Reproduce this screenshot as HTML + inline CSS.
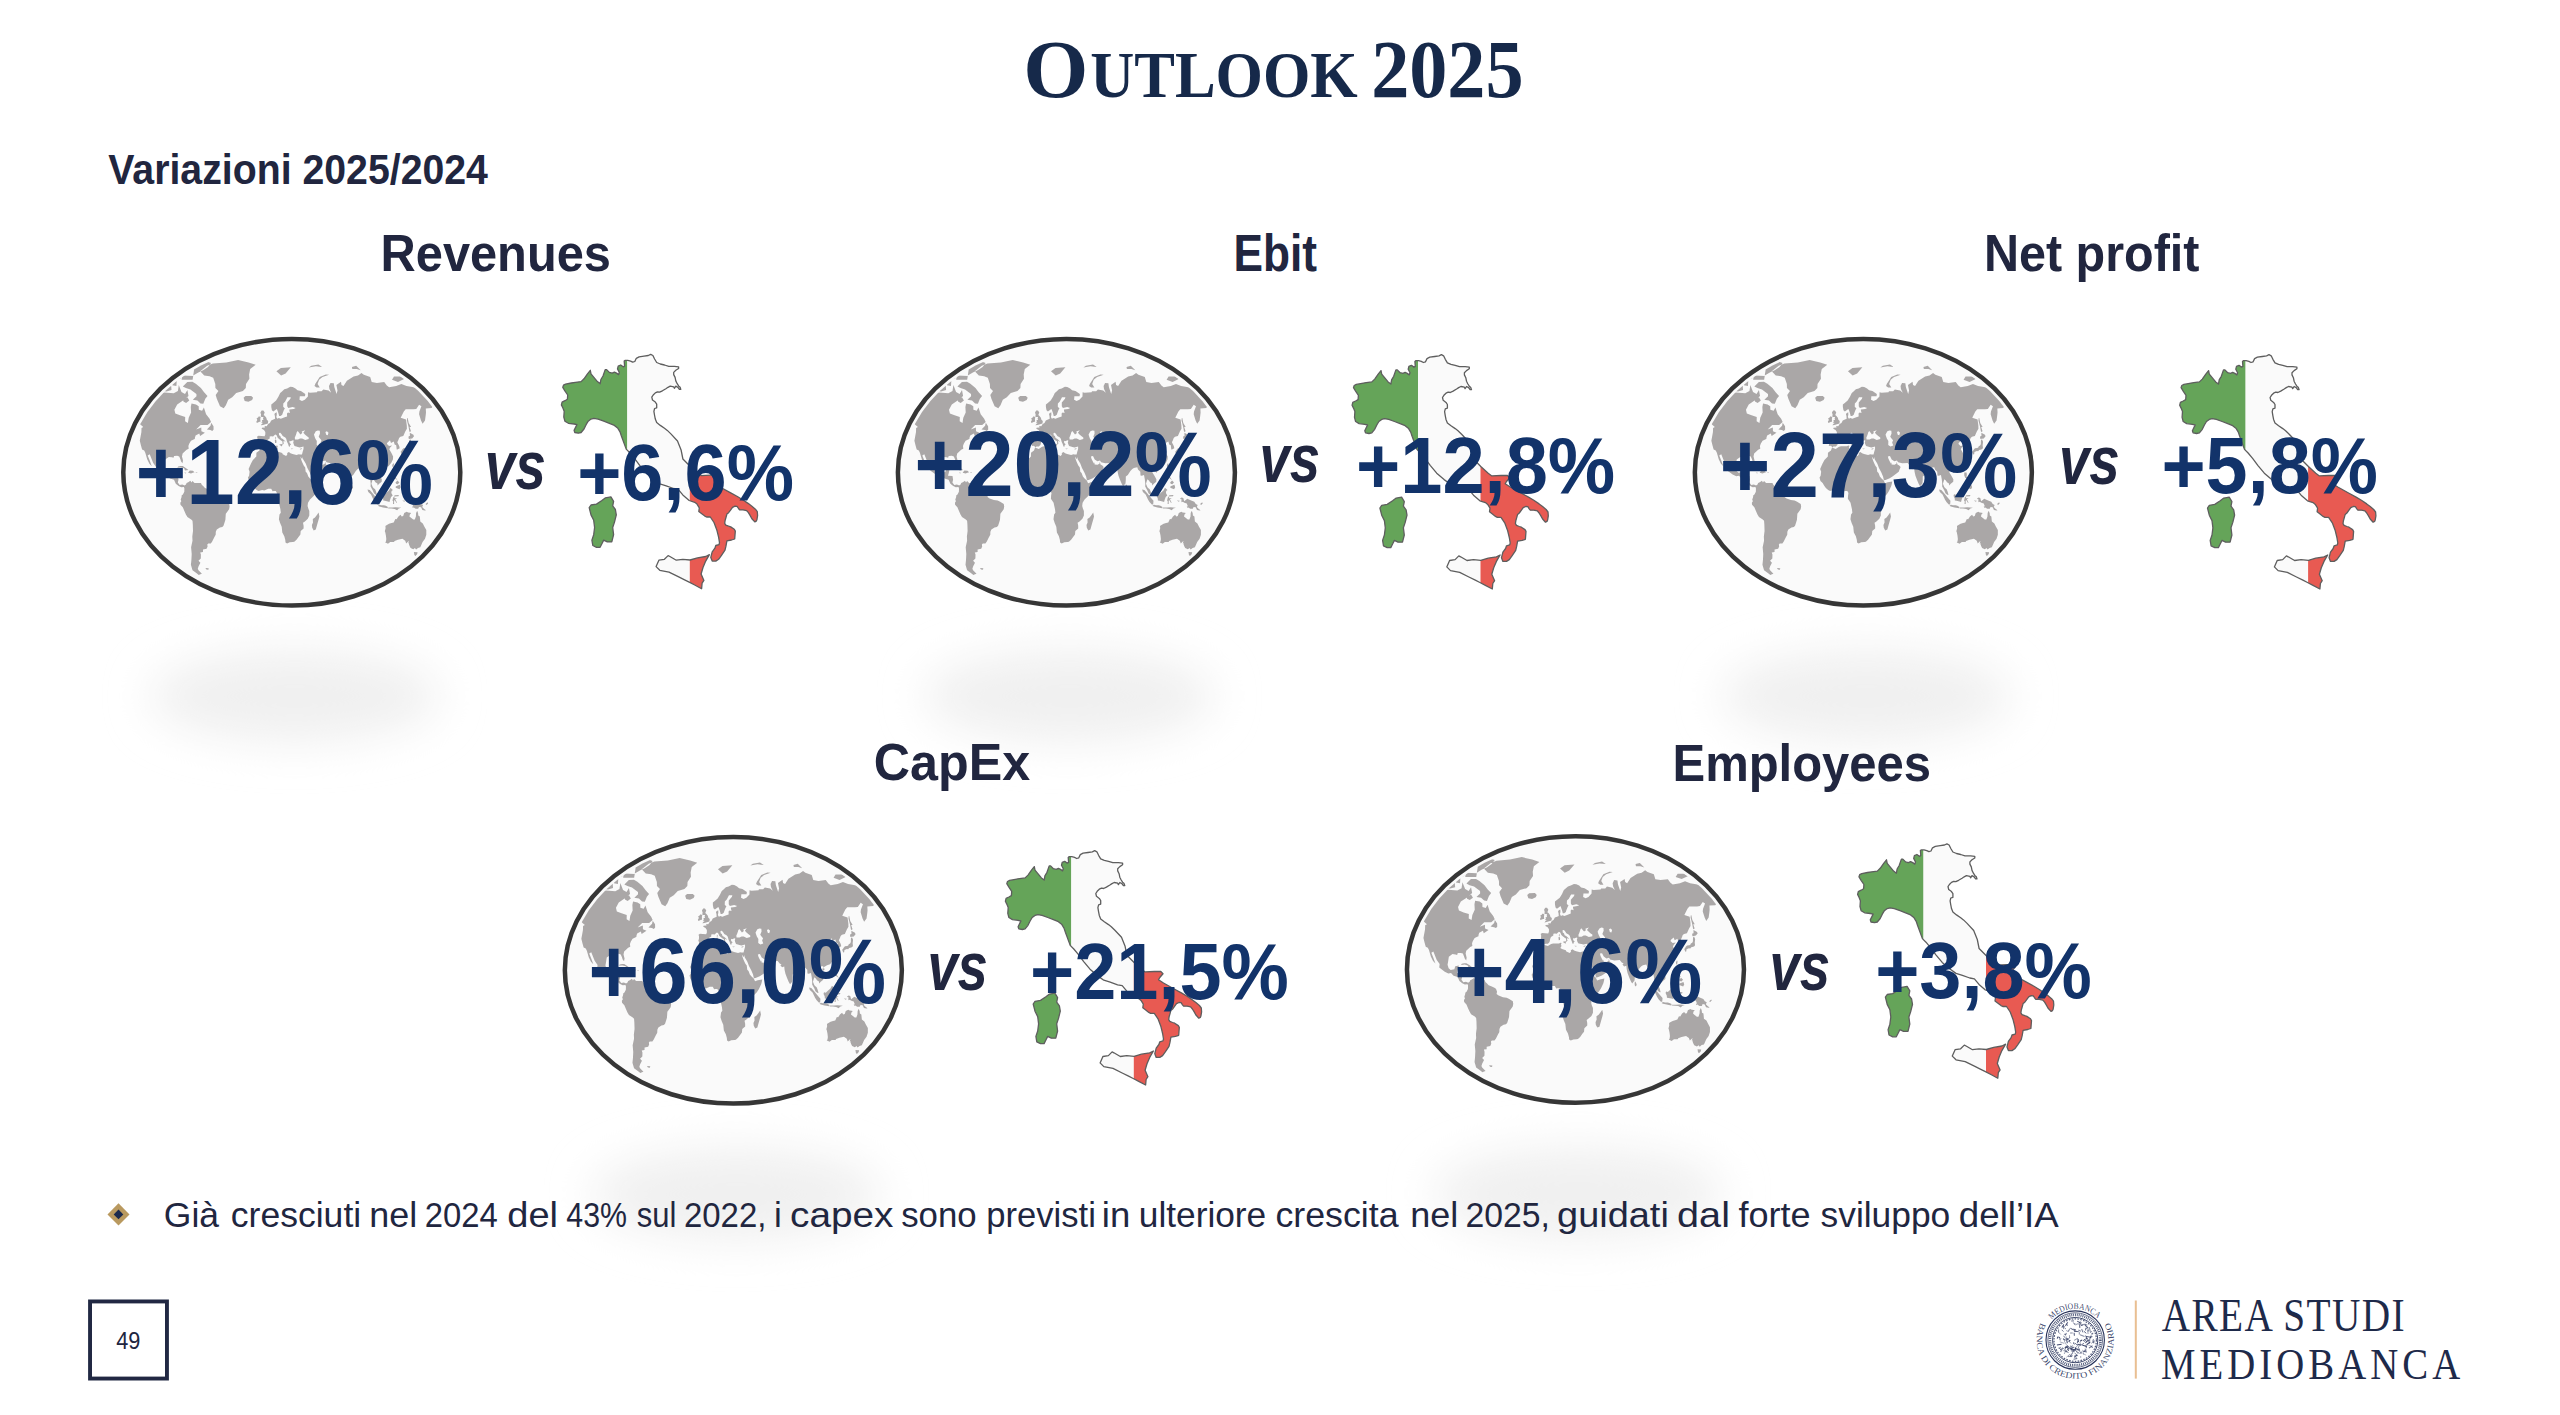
<!DOCTYPE html>
<html lang="it"><head><meta charset="utf-8"><title>Outlook 2025</title>
<style>html,body{margin:0;padding:0;background:#fff;width:2560px;height:1415px;overflow:hidden}</style>
</head><body>
<svg width="2560" height="1415" viewBox="0 0 2560 1415" style="position:absolute;left:0;top:0">
<defs>
<filter id="blur" x="-50%" y="-100%" width="200%" height="300%"><feGaussianBlur stdDeviation="22"/></filter>
<clipPath id="gclip"><ellipse cx="0" cy="0" rx="163.5" ry="128.3"/></clipPath>
<clipPath id="iclip"><path d="M574.8 432.5L574.1 430.4L576.2 426.1L576.9 424.7L574.1 424.0L568.4 423.3L564.9 421.2L563.8 417.0L564.2 411.3L562.8 407.8L561.4 404.9L562.1 402.1L564.9 400.7L567.4 399.3L567.7 395.0L564.9 390.8L562.8 387.3L563.5 385.2L565.6 384.1L571.3 383.0L575.5 382.3L581.1 381.6L584.0 378.8L587.5 373.8L590.3 370.3L591.0 373.8L593.9 377.4L597.4 381.6L600.2 383.7L600.9 379.5L603.0 376.0L605.2 369.6L606.6 369.6L609.4 372.4L612.2 373.1L614.4 372.1L616.5 373.1L618.6 374.6L619.3 372.4L617.5 368.9L618.2 366.1L620.7 365.0L623.2 366.8L624.6 366.1L624.2 361.1L625.0 360.4L627.8 360.4L630.6 361.1L632.7 362.2L634.8 361.5L636.3 358.3L639.1 356.9L644.0 356.2L648.3 355.5L650.7 354.4L652.9 355.5L654.6 359.0L656.7 362.5L660.3 364.0L664.5 365.0L668.8 366.4L674.4 366.4L678.6 366.8L678.6 368.5L675.8 370.3L673.7 372.4L673.7 374.6L675.1 377.4L675.8 380.9L677.2 383.7L678.6 385.9L680.1 387.3L680.8 389.4L679.4 389.4L677.9 387.3L675.8 386.2L674.4 388.3L673.7 386.9L670.2 386.2L668.0 387.3L665.9 388.7L662.4 390.8L659.6 392.2L657.5 391.9L655.3 392.9L653.2 395.0L651.8 397.2L652.5 400.0L655.3 402.1L656.7 404.2L656.7 407.8L654.6 408.5L653.9 411.3L654.6 415.5L655.3 419.1L656.7 422.6L660.3 425.4L664.5 428.3L667.3 430.4L670.9 433.9L677.5 441.0L681.1 450.0L682.9 459.0L690.1 466.2L697.5 472.9L701.1 475.6L710.3 475.2L716.8 475.2L719.0 477.5L715.8 481.2L714.5 483.5L719.5 486.7L730.7 492.9L737.8 496.8L743.1 500.0L748.4 503.6L751.9 506.3L755.4 509.2L757.3 511.7L757.6 515.5L756.9 519.8L756.3 521.1L754.8 521.9L751.9 518.7L750.2 515.6L748.4 512.7L746.6 510.6L743.1 509.9L739.6 509.9L738.5 508.5L737.1 506.4L735.0 506.2L732.5 507.4L730.7 509.9L728.6 512.7L726.9 514.1L726.1 517.0L725.1 520.5L724.7 523.3L725.8 525.1L728.6 526.2L730.7 526.9L734.3 529.3L735.3 531.1L734.7 539.0L731.5 540.0L726.9 540.9L725.9 546.4L725.0 550.1L721.3 555.6L718.6 559.3L715.8 561.1L712.2 561.1L710.8 557.4L712.2 551.9L714.9 548.2L715.8 545.5L719.0 544.6L719.5 542.7L718.6 537.2L716.8 529.9L714.0 522.5L710.3 517.0L706.6 517.0L704.8 516.1L701.1 513.3L698.8 511.5L699.3 507.8L697.0 504.1L694.7 502.3L689.2 500.5L682.8 494.9L678.2 489.4L673.6 488.5L666.2 485.8L659.8 483.9L653.4 479.3L646.0 472.9L639.7 465.3L634.3 458.1L629.8 452.7L626.2 449.1L621.4 436.0L620.0 431.8L617.9 428.3L614.4 425.4L609.4 423.3L603.8 421.2L598.1 419.1L593.9 418.4L591.0 419.1L588.2 421.2L586.1 424.7L584.0 429.0L581.1 432.5L578.3 433.2ZM605.5 497.8L610.9 496.9L613.6 501.4L612.7 505.9L615.4 509.5L616.3 514.9L614.5 522.1L612.7 527.5L613.6 534.7L611.8 541.9L607.3 541.9L603.7 540.1L601.9 543.7L600.1 547.3L596.5 547.3L592.8 545.5L591.9 540.1L593.7 534.7L594.6 527.5L593.7 520.3L591.0 514.9L589.2 507.7L591.0 505.0L596.5 504.1L601.9 500.5ZM709.4 554.7L705.7 556.5L697.5 557.9L690.1 560.0L682.8 559.3L676.3 560.2L669.9 556.5L668.1 555.6L664.4 559.3L658.9 560.2L656.1 566.6L659.8 570.3L669.0 572.1L678.2 576.7L684.6 579.9L689.2 582.2L694.7 585.0L701.6 588.7L702.1 583.2L703.9 580.4L701.1 574.0L703.0 567.5L705.7 561.1Z"/></clipPath>
<symbol id="map" overflow="visible">
<g clip-path="url(#gclip)"><path d="M-185.6 -74.7L-181.8 -81.1L-171.8 -85.9L-166.0 -84.1L-157.9 -82.5L-152.3 -82.3L-145.4 -83.7L-138.4 -81.3L-134.1 -79.4L-127.4 -79.8L-118.1 -79.0L-113.9 -81.3L-113.0 -87.2L-110.3 -80.4L-106.8 -78.4L-104.4 -82.3L-103.3 -76.4L-108.8 -71.7L-114.6 -67.9L-117.4 -62.5L-116.5 -58.9L-111.8 -57.1L-106.6 -55.4L-106.7 -51.1L-103.9 -49.4L-103.1 -54.5L-100.7 -59.8L-101.0 -65.2L-100.3 -68.7L-95.8 -67.9L-93.1 -66.1L-93.0 -62.5L-89.7 -61.6L-87.9 -64.8L-85.7 -58.0L-82.2 -53.6L-80.7 -50.2L-84.2 -47.2L-91.2 -47.2L-95.7 -42.7L-90.5 -44.7L-90.4 -41.1L-86.9 -39.5L-85.8 -40.3L-91.7 -36.3L-92.5 -38.7L-96.2 -36.8L-97.1 -33.9L-96.6 -33.5L-100.8 -31.6L-102.6 -28.5L-103.4 -26.3L-103.1 -23.6L-105.2 -22.5L-109.2 -18.8L-109.8 -15.9L-108.8 -11.7L-109.3 -9.1L-110.7 -10.9L-111.4 -13.1L-112.6 -15.9L-114.6 -16.5L-117.7 -16.4L-118.3 -14.5L-119.9 -15.1L-123.0 -15.4L-126.6 -12.8L-127.2 -8.8L-127.9 -4.7L-126.8 -1.2L-124.8 0.5L-121.1 -0.3L-120.2 -3.3L-116.6 -4.0L-117.5 0.1L-118.4 3.5L-113.9 3.8L-113.3 7.5L-114.0 10.2L-112.1 12.8L-109.5 12.2L-107.2 13.2L-108.0 14.8L-110.6 14.9L-113.2 13.7L-116.0 11.5L-117.8 7.5L-121.9 6.2L-124.4 3.5L-127.1 3.9L-130.7 2.2L-136.2 -1.9L-135.8 -5.4L-138.7 -9.5L-142.1 -18.1L-144.1 -16.7L-142.1 -11.7L-140.0 -6.1L-142.4 -8.6L-144.6 -13.1L-146.5 -19.6L-147.6 -21.8L-149.7 -22.7L-150.9 -27.0L-152.0 -31.6L-150.4 -40.3L-150.3 -44.2L-148.5 -45.2L-152.3 -48.5L-154.1 -54.5L-156.0 -59.8L-158.5 -61.6L-161.4 -63.7L-166.9 -65.2L-171.2 -63.4L-172.7 -65.2L-175.6 -61.6L-179.2 -58.9L-185.0 -55.4L-187.7 -54.5L-182.4 -58.0L-178.9 -62.1L-182.8 -63.9L-185.2 -65.7L-184.2 -69.2L-179.5 -72.6L-183.2 -72.8ZM-91.6 -101.0L-84.6 -106.5L-79.0 -108.8L-65.5 -109.9L-53.7 -112.4L-43.2 -109.9L-36.1 -107.6L-41.6 -103.2L-42.7 -97.8L-42.4 -93.6L-45.8 -88.4L-46.0 -84.3L-48.9 -81.3L-55.6 -79.4L-59.6 -75.1L-63.6 -72.6L-65.9 -67.0L-68.1 -64.1L-71.8 -66.1L-73.4 -69.8L-75.0 -73.6L-76.1 -77.4L-73.4 -81.3L-76.4 -84.3L-76.5 -88.4L-78.6 -94.6L-82.2 -96.1L-87.6 -96.7ZM-31.1 -24.8L-31.8 -26.0L-33.0 -26.6L-34.5 -26.3L-34.3 -28.8L-35.1 -29.0L-34.4 -31.6L-34.3 -33.9L-34.8 -35.5L-33.4 -36.6L-30.4 -36.3L-27.2 -36.1L-26.5 -37.9L-26.5 -40.3L-27.8 -42.2L-30.1 -43.5L-29.8 -44.5L-26.8 -44.7L-27.2 -46.4L-25.1 -46.0L-23.7 -48.4L-21.9 -49.4L-20.6 -51.9L-18.4 -52.8L-16.7 -53.6L-16.9 -56.2L-17.4 -58.0L-16.9 -59.1L-15.1 -60.1L-15.0 -57.5L-15.5 -55.4L-14.5 -53.6L-13.0 -54.3L-11.0 -53.5L-7.1 -55.0L-4.7 -55.9L-4.8 -58.9L-3.8 -59.9L-1.8 -59.2L-2.4 -61.6L-2.5 -62.8L1.9 -63.4L3.8 -64.3L0.8 -65.2L-3.5 -64.3L-4.6 -66.1L-4.6 -69.8L-1.4 -73.6L-1.0 -75.1L-4.4 -75.1L-6.6 -70.7L-8.5 -68.9L-8.6 -65.5L-6.9 -63.9L-7.8 -62.5L-9.2 -58.9L-9.6 -57.5L-11.3 -56.2L-12.7 -56.2L-13.1 -58.0L-13.8 -60.3L-14.6 -62.5L-15.1 -63.4L-16.1 -62.5L-18.5 -60.7L-19.9 -62.1L-20.5 -65.2L-20.5 -67.9L-18.6 -69.4L-15.7 -71.7L-13.4 -75.5L-11.6 -79.4L-9.8 -80.9L-7.5 -83.1L-4.7 -83.9L-1.5 -85.5L0.9 -85.3L3.7 -83.9L5.7 -82.1L9.1 -81.3L13.5 -78.4L13.2 -76.1L8.0 -76.1L7.7 -72.6L10.2 -71.3L13.0 -72.6L16.1 -75.9L16.2 -80.0L18.2 -79.6L25.2 -80.0L25.6 -81.1L29.8 -81.1L31.5 -82.9L36.8 -81.7L39.4 -79.6L37.6 -83.3L37.2 -86.3L38.7 -89.4L42.0 -89.0L42.5 -85.3L44.8 -78.4L45.7 -81.9L44.6 -87.4L49.2 -90.6L49.7 -87.4L51.7 -86.3L55.1 -91.5L61.8 -95.7L66.2 -96.7L69.7 -99.3L72.0 -97.6L78.4 -95.2L79.9 -90.2L85.1 -89.4L92.4 -90.2L95.0 -86.7L97.3 -85.1L104.4 -86.3L109.6 -88.2L114.7 -86.3L120.6 -85.3L124.6 -84.3L126.6 -82.1L131.7 -82.5L134.3 -83.3L140.1 -82.7L144.4 -81.1L150.9 -78.4L155.6 -75.5L152.7 -72.6L146.7 -73.6L145.2 -68.9L141.9 -67.0L139.8 -64.3L134.0 -63.9L134.2 -59.8L133.9 -57.1L133.2 -51.9L130.8 -48.5L129.2 -51.9L127.3 -58.0L127.6 -60.7L129.6 -66.1L127.3 -67.6L124.5 -63.4L121.6 -63.0L113.9 -63.0L112.0 -60.7L108.9 -54.5L114.2 -52.8L115.0 -46.9L115.1 -43.5L113.6 -41.1L111.5 -36.3L108.6 -35.5L107.3 -34.4L106.6 -32.4L105.5 -30.1L107.4 -26.3L107.9 -24.0L105.6 -22.7L104.9 -22.7L104.4 -27.0L102.8 -27.8L102.0 -30.8L99.2 -29.3L98.2 -32.1L95.3 -29.4L95.2 -28.2L97.2 -26.4L100.3 -26.9L98.4 -24.8L97.5 -23.0L99.9 -18.8L101.3 -15.9L101.2 -13.1L99.5 -9.5L96.7 -6.1L93.7 -5.1L90.7 -3.3L90.2 -2.3L89.8 -4.1L88.0 -4.0L86.6 -1.9L86.0 0.1L87.6 2.6L90.0 6.9L89.9 9.5L87.4 11.5L85.8 13.3L85.6 11.1L83.6 9.9L82.7 8.5L81.1 7.0L80.4 8.6L79.6 11.5L80.9 14.8L81.7 15.7L83.3 17.0L84.3 19.4L85.2 22.7L83.9 22.5L82.1 20.9L81.0 18.1L78.8 14.3L78.9 11.5L78.4 6.9L77.6 2.8L75.4 3.5L74.1 3.1L73.9 -0.6L71.6 -2.9L70.9 -5.1L69.6 -4.7L67.5 -4.3L65.9 -3.3L64.0 -1.2L61.4 2.7L59.4 4.2L59.4 7.5L59.1 11.1L56.7 14.0L55.4 11.8L53.7 7.8L52.1 3.5L51.2 -0.6L50.9 -3.7L48.7 -3.0L47.0 -5.1L48.2 -5.9L46.3 -6.9L44.3 -9.4L38.9 -9.1L34.7 -10.0L33.6 -11.8L31.0 -11.1L28.3 -12.9L26.6 -16.2L24.5 -15.9L25.1 -13.6L26.3 -11.1L27.7 -8.6L28.5 -10.0L28.2 -7.7L31.2 -7.6L33.2 -8.7L33.4 -10.7L34.1 -7.9L35.9 -6.9L37.3 -5.2L36.1 -2.5L35.4 -0.6L33.1 1.1L29.5 3.9L26.4 5.9L22.2 7.8L20.5 7.9L19.7 4.2L18.0 0.1L15.6 -4.3L13.9 -8.8L11.3 -13.1L10.9 -15.2L10.4 -13.1L8.5 -15.8L8.1 -17.8L10.2 -17.8L10.8 -20.3L11.7 -23.3L11.7 -25.7L8.1 -24.9L6.0 -25.4L4.5 -25.8L2.7 -26.3L1.8 -28.2L1.4 -30.1L2.0 -31.6L1.2 -32.1L-1.4 -31.1L-2.4 -31.6L-2.2 -29.3L-0.7 -28.1L-1.7 -27.0L-2.2 -25.4L-3.0 -26.0L-3.7 -28.2L-4.7 -30.4L-5.6 -33.6L-6.5 -34.7L-9.1 -36.3L-10.2 -38.0L-11.5 -39.6L-12.9 -39.2L-12.7 -37.1L-11.5 -36.3L-10.8 -34.3L-9.0 -33.2L-6.5 -31.1L-6.6 -30.5L-8.0 -31.6L-8.5 -30.1L-7.8 -29.3L-8.8 -27.8L-9.3 -27.8L-9.3 -30.1L-9.5 -31.0L-10.8 -31.8L-12.7 -33.3L-14.1 -34.6L-14.7 -36.0L-15.4 -37.2L-16.5 -37.7L-17.7 -36.8L-18.7 -35.7L-20.5 -36.1L-22.1 -35.8L-22.1 -33.9L-24.5 -32.4L-25.3 -30.5L-25.6 -28.4L-26.1 -27.2L-27.5 -25.8L-29.9 -25.8ZM-31.4 -24.5L-30.9 -24.6L-27.6 -23.4L-24.3 -25.5L-22.3 -26.0L-16.5 -26.1L-14.9 -26.7L-13.9 -26.4L-14.5 -24.8L-13.9 -23.6L-14.9 -22.1L-14.8 -21.3L-13.4 -20.5L-9.6 -19.3L-9.1 -18.0L-5.7 -16.4L-4.5 -17.7L-4.6 -19.3L-2.9 -20.2L-1.3 -19.1L0.7 -18.3L4.7 -17.2L7.1 -18.1L8.1 -17.8L8.5 -15.8L9.2 -13.4L10.1 -10.9L11.9 -6.7L13.4 -4.7L13.9 -0.6L15.2 0.8L16.5 4.3L18.2 6.2L20.4 8.3L21.7 11.0L24.4 10.0L28.9 9.1L28.6 11.0L27.9 13.7L25.6 18.7L23.5 22.0L20.3 25.2L18.2 27.2L16.2 30.5L15.8 33.7L16.5 36.3L17.5 38.6L17.5 43.2L16.0 46.5L13.1 49.1L11.2 50.5L11.8 53.4L11.8 56.1L8.9 58.7L8.6 62.3L7.1 64.1L4.7 67.4L2.5 69.5L1.0 69.8L-2.1 70.0L-4.7 71.1L-6.3 70.1L-6.5 67.8L-7.5 63.9L-9.5 60.2L-10.1 54.5L-11.7 50.7L-12.9 47.0L-12.3 42.1L-11.0 40.4L-11.4 36.9L-12.4 32.4L-12.8 30.4L-15.5 26.5L-15.3 23.3L-14.9 20.7L-16.0 18.8L-17.9 18.8L-19.2 19.0L-20.6 16.4L-23.6 16.5L-27.5 18.3L-29.6 17.8L-33.3 18.8L-35.2 17.7L-37.5 15.7L-39.3 13.3L-40.7 10.8L-42.9 8.6L-43.8 5.2L-42.7 3.5L-42.2 -0.6L-43.2 -3.3L-40.8 -8.8L-38.9 -12.4L-35.5 -15.7L-35.4 -19.6L-32.4 -21.9ZM26.8 40.2L27.6 44.1L26.9 47.0L25.6 51.4L24.0 57.3L21.9 58.1L20.4 55.4L20.1 52.7L21.2 50.1L21.0 46.7L23.2 45.2L25.1 42.8ZM-107.3 13.2L-105.8 12.2L-105.2 10.8L-103.6 9.9L-101.4 8.5L-100.4 10.2L-99.3 8.6L-97.3 10.7L-93.0 10.7L-90.9 10.6L-89.9 12.8L-88.9 13.5L-86.8 15.7L-83.6 16.9L-80.5 18.5L-79.4 19.4L-78.4 22.2L-78.9 24.6L-76.8 26.1L-72.5 27.8L-68.8 28.3L-66.2 29.5L-62.6 31.7L-62.2 34.3L-62.7 36.9L-64.5 39.5L-66.0 41.5L-66.4 47.4L-67.4 50.7L-68.3 53.4L-69.5 54.8L-71.9 55.2L-75.0 57.2L-76.0 59.5L-76.1 62.4L-77.5 65.0L-79.6 69.3L-81.0 71.1L-83.6 71.1L-84.5 72.1L-84.2 74.3L-85.2 76.4L-88.8 77.2L-88.8 79.8L-91.6 80.1L-90.9 82.2L-91.0 86.2L-93.3 88.5L-91.4 90.5L-93.2 93.9L-94.0 96.5L-93.3 97.9L-89.9 101.5L-91.4 102.0L-93.0 102.8L-95.5 100.7L-99.3 97.9L-100.9 92.4L-100.4 87.7L-100.1 81.6L-100.7 75.0L-99.3 68.5L-99.5 64.3L-98.8 58.8L-99.0 52.1L-99.3 48.5L-100.6 47.1L-104.4 44.8L-105.9 42.1L-107.1 39.5L-109.0 35.0L-111.3 32.4L-111.5 30.4L-110.5 29.0L-111.1 27.2L-110.2 24.6L-110.2 23.3L-108.9 22.2L-107.5 19.4L-107.4 16.1L-107.9 14.8ZM-86.4 95.8L-83.1 96.0L-83.4 97.4L-85.4 97.3ZM94.3 53.1L97.2 51.5L99.7 50.7L101.9 50.1L103.5 46.7L104.8 47.0L106.6 44.1L108.7 42.5L109.9 44.1L111.4 43.8L112.4 40.8L114.9 39.5L116.3 40.2L118.4 40.4L119.4 40.6L118.1 42.1L117.6 44.1L118.9 45.3L121.4 47.3L123.0 47.3L124.1 44.1L124.3 40.8L125.4 38.5L126.3 41.0L126.5 43.3L128.0 44.1L128.5 49.3L131.0 51.1L132.5 54.1L134.5 57.7L134.5 62.4L133.2 66.4L130.8 69.8L128.5 75.0L126.2 75.6L124.3 77.2L123.1 75.7L121.5 76.9L118.8 75.7L118.0 74.3L117.2 72.3L117.0 70.4L116.3 71.5L117.1 68.5L114.4 71.1L113.4 68.4L110.6 66.4L106.1 67.4L102.8 68.7L102.2 69.8L98.5 69.8L96.2 71.4L94.2 70.5L93.4 70.4L94.2 69.0L94.5 66.6L94.1 63.2L93.5 60.2L93.0 59.0L93.8 56.0L93.6 53.7ZM122.1 79.7L125.8 80.0L125.3 81.9L123.6 84.0L122.5 82.4ZM-84.3 -76.4L-86.5 -73.6L-88.5 -68.5L-91.3 -68.9L-94.4 -71.7L-99.0 -72.6L-95.3 -76.1L-95.4 -78.4L-101.4 -82.9L-105.9 -84.3L-109.0 -85.9L-104.5 -90.4L-99.4 -90.6L-96.0 -88.6L-90.9 -84.3L-87.7 -80.0ZM-98.6 -96.7L-93.5 -99.9L-88.7 -102.1L-83.8 -105.4L-80.7 -109.4L-85.8 -111.0L-94.8 -110.6L-98.8 -107.6L-97.8 -102.1ZM-98.6 -96.3L-109.5 -96.7L-110.2 -92.5L-99.2 -92.5ZM-136.0 -86.3L-130.2 -89.4L-123.6 -90.0L-120.6 -86.3L-120.3 -82.3L-125.3 -80.9L-132.7 -81.7L-136.0 -83.9ZM-142.4 -87.0L-137.5 -85.9L-133.7 -90.4L-138.9 -92.1L-141.8 -89.4ZM-108.6 -72.6L-104.4 -75.1L-102.5 -71.7L-105.7 -69.4L-108.4 -70.7ZM-132.4 -96.7L-122.6 -95.7L-123.0 -93.6L-133.3 -92.5ZM-120.5 -96.7L-112.5 -95.7L-111.0 -93.6L-117.6 -92.5ZM-119.6 -89.0L-115.1 -91.3L-115.4 -86.3L-119.5 -87.0ZM-84.9 -42.9L-81.3 -46.5L-80.6 -49.5L-78.3 -46.0L-78.2 -42.7L-79.5 -41.4L-81.4 -42.2ZM-114.4 -4.5L-113.7 -5.8L-111.2 -6.2L-109.1 -6.2L-106.1 -4.4L-103.3 -2.2L-106.8 -1.8L-107.7 -4.0L-110.8 -4.9L-112.4 -4.7ZM-103.6 0.1L-102.0 -1.8L-98.9 -1.6L-97.3 -0.0L-99.0 0.5L-100.8 1.1L-103.6 0.4ZM-107.7 0.3L-105.5 0.5L-106.2 1.1ZM-96.0 0.1L-94.4 0.3L-94.6 0.8L-96.1 0.8ZM-48.2 -74.5L-46.3 -76.3L-40.5 -76.4L-38.7 -74.5L-39.7 -72.2L-43.4 -70.5L-47.1 -71.3ZM-15.4 -101.0L-10.9 -104.3L-1.0 -105.0L-6.2 -98.9L-10.7 -96.7ZM-31.0 -47.0L-28.8 -47.4L-23.9 -48.9L-23.6 -51.4L-25.0 -52.6L-25.5 -54.5L-26.9 -56.4L-28.1 -57.3L-27.1 -59.8L-28.4 -61.7L-30.2 -61.7L-31.4 -59.8L-30.7 -57.6L-31.2 -55.9L-30.2 -55.4L-28.3 -55.2L-28.8 -53.6L-28.3 -52.4L-29.9 -52.3L-29.5 -50.7L-30.6 -49.9L-28.5 -49.2L-29.6 -48.9ZM-31.5 -53.5L-31.3 -50.6L-32.3 -50.6L-34.9 -49.4L-35.5 -50.6L-34.5 -52.4L-35.2 -54.0L-33.7 -54.7L-33.2 -55.7L-32.1 -55.7L-31.0 -54.7ZM-12.6 -27.5L-9.8 -25.8L-9.4 -28.2L-11.7 -28.1ZM-16.7 -29.3L-15.5 -29.4L-15.3 -31.6L-16.0 -32.7L-17.0 -32.2ZM-16.6 -33.8L-16.0 -33.0L-15.7 -35.2L-15.9 -35.5L-16.5 -34.7ZM-1.1 -23.7L1.8 -23.6L-0.1 -23.1ZM7.9 -23.3L10.3 -24.2L9.6 -23.1L8.4 -22.7ZM22.7 -86.3L24.8 -84.7L28.0 -84.7L25.8 -88.4L27.3 -92.5L30.7 -95.2L37.3 -97.6L34.0 -97.8L27.9 -95.2L25.5 -91.5L23.5 -88.6ZM17.0 -104.7L24.1 -106.1L30.4 -105.4L26.6 -107.9L19.5 -106.5ZM60.5 -103.2L65.0 -103.2L68.9 -102.1L64.4 -106.5L60.1 -105.4ZM100.2 -92.5L106.2 -90.4L112.8 -93.6L108.6 -95.7L102.2 -95.7ZM141.6 -85.3L144.8 -85.7L142.7 -86.5ZM108.8 -20.6L109.9 -17.7L110.8 -18.0L111.1 -20.3L113.5 -21.3L114.8 -21.0L115.8 -22.2L117.8 -22.7L118.9 -23.3L119.6 -24.3L119.3 -27.0L119.5 -28.5L119.7 -30.5L118.6 -33.0L117.6 -32.1L117.5 -30.1L117.5 -28.2L116.8 -26.7L115.4 -26.0L114.9 -24.8L113.9 -24.2L111.6 -24.0L110.1 -22.4L109.8 -21.6ZM117.2 -33.2L118.4 -33.6L120.4 -33.9L122.2 -36.0L121.6 -37.6L118.0 -39.5L118.1 -36.3L116.9 -36.0L116.7 -34.4ZM117.8 -40.3L119.2 -41.1L117.8 -45.2L119.3 -45.2L116.9 -49.4L115.9 -54.2L115.4 -54.2L115.1 -51.9L116.8 -45.2L117.5 -41.3ZM100.5 -6.1L101.6 -4.5L102.1 -8.1L101.6 -9.3L100.5 -7.2ZM88.9 -0.8L90.4 0.4L91.3 -1.4L90.6 -2.1L89.2 -1.8ZM100.9 0.1L103.2 0.1L103.6 3.1L102.9 3.6L105.7 7.9L103.2 5.9L102.0 5.7L100.9 3.1ZM103.9 15.4L107.7 17.0L108.8 15.0L108.0 12.4L105.4 13.5L103.9 14.1ZM103.7 10.2L105.7 8.2L107.6 10.2L105.9 12.0L104.3 11.5ZM90.3 22.6L90.9 22.0L92.4 22.5L94.5 20.4L97.1 18.1L98.6 15.4L101.1 17.8L99.8 18.8L99.5 20.7L100.9 23.3L99.3 24.6L98.2 27.8L97.7 29.6L96.1 29.1L93.1 28.5L91.5 28.3L91.3 25.9L90.3 23.9ZM75.7 17.3L78.0 17.8L81.0 21.3L84.7 25.7L87.1 28.5L86.8 32.2L85.4 32.2L83.1 29.8L81.7 27.4L79.2 22.2L76.5 19.6ZM86.1 33.4L87.6 32.4L89.6 32.9L92.2 32.9L94.0 33.5L96.1 34.6L95.8 35.9L91.2 35.1L87.5 34.2ZM96.5 35.2L100.7 35.2L103.9 35.0L107.0 35.2L109.5 35.5L107.0 36.3L105.3 37.9L102.8 36.6L99.6 36.3L96.4 36.1ZM101.2 31.7L102.3 31.8L102.3 28.3L103.1 27.9L104.5 30.5L105.3 30.4L103.5 27.0L105.4 25.7L103.0 25.9L102.1 23.9L103.0 22.9L107.0 22.6L106.7 24.0L102.3 24.2L101.4 25.2L100.7 28.1L101.4 29.1ZM113.6 26.3L115.2 25.1L116.9 25.7L117.8 28.9L120.9 26.5L124.2 27.9L127.9 29.5L129.4 31.7L131.3 32.7L130.4 34.7L132.1 36.4L134.2 37.9L133.0 38.3L130.6 37.7L129.3 35.0L127.2 34.6L126.4 36.4L123.9 36.4L121.9 35.1L120.8 35.5L120.4 34.3L121.6 34.0L121.1 33.1L120.4 31.2L118.0 30.4L116.3 29.4L115.3 29.9L114.7 28.2L116.1 27.7L114.9 27.3ZM133.7 31.7L135.8 30.0L136.3 31.1L134.7 32.6ZM110.4 28.2L113.4 28.5L112.5 29.5ZM59.2 13.9L59.3 15.7L60.1 16.9L61.3 15.4L60.6 13.3L59.5 11.8ZM152.7 70.7L154.0 73.5L155.2 74.6L157.7 75.3L155.6 77.6L153.9 80.6L152.5 80.6L153.0 78.4L152.4 77.5L153.9 74.3ZM150.9 79.4L152.1 80.9L150.5 83.1L147.9 85.1L146.7 87.5L144.8 88.8L142.5 87.7L143.1 86.5L145.1 84.6L148.9 81.3Z" fill="#aaa7a7"/><path d="M3.2 -32.7L4.2 -32.7L6.2 -32.7L8.2 -33.9L10.3 -33.9L13.4 -32.4L16.9 -33.2L16.9 -34.9L15.2 -36.1L13.1 -37.9L12.0 -39.0L11.5 -39.5L13.4 -42.1L9.9 -40.8L10.5 -39.2L8.6 -37.9L7.5 -39.3L5.9 -41.3L4.9 -40.0L4.6 -38.7L3.7 -36.3L3.0 -34.7ZM22.2 -37.9L24.0 -41.1L26.0 -41.9L28.0 -41.6L28.2 -38.7L26.9 -35.5L28.4 -33.6L29.7 -32.1L28.8 -29.8L29.9 -26.7L27.1 -25.8L24.9 -27.2L25.0 -31.3L23.5 -33.9L22.6 -36.3ZM33.6 -40.3L35.1 -41.1L36.7 -39.5L35.9 -37.1L34.4 -37.6Z" fill="#fafafa"/></g>
</symbol>
<symbol id="italy" overflow="visible">
<g clip-path="url(#iclip)">
<rect x="540" y="340" width="87.3" height="270" fill="#65a459"/>
<rect x="627.3" y="340" width="62.5" height="270" fill="#fafafa"/>
<rect x="689.8" y="340" width="120" height="270" fill="#e85a52"/>
</g>
<path d="M574.8 432.5L574.1 430.4L576.2 426.1L576.9 424.7L574.1 424.0L568.4 423.3L564.9 421.2L563.8 417.0L564.2 411.3L562.8 407.8L561.4 404.9L562.1 402.1L564.9 400.7L567.4 399.3L567.7 395.0L564.9 390.8L562.8 387.3L563.5 385.2L565.6 384.1L571.3 383.0L575.5 382.3L581.1 381.6L584.0 378.8L587.5 373.8L590.3 370.3L591.0 373.8L593.9 377.4L597.4 381.6L600.2 383.7L600.9 379.5L603.0 376.0L605.2 369.6L606.6 369.6L609.4 372.4L612.2 373.1L614.4 372.1L616.5 373.1L618.6 374.6L619.3 372.4L617.5 368.9L618.2 366.1L620.7 365.0L623.2 366.8L624.6 366.1L624.2 361.1L625.0 360.4L627.8 360.4L630.6 361.1L632.7 362.2L634.8 361.5L636.3 358.3L639.1 356.9L644.0 356.2L648.3 355.5L650.7 354.4L652.9 355.5L654.6 359.0L656.7 362.5L660.3 364.0L664.5 365.0L668.8 366.4L674.4 366.4L678.6 366.8L678.6 368.5L675.8 370.3L673.7 372.4L673.7 374.6L675.1 377.4L675.8 380.9L677.2 383.7L678.6 385.9L680.1 387.3L680.8 389.4L679.4 389.4L677.9 387.3L675.8 386.2L674.4 388.3L673.7 386.9L670.2 386.2L668.0 387.3L665.9 388.7L662.4 390.8L659.6 392.2L657.5 391.9L655.3 392.9L653.2 395.0L651.8 397.2L652.5 400.0L655.3 402.1L656.7 404.2L656.7 407.8L654.6 408.5L653.9 411.3L654.6 415.5L655.3 419.1L656.7 422.6L660.3 425.4L664.5 428.3L667.3 430.4L670.9 433.9L677.5 441.0L681.1 450.0L682.9 459.0L690.1 466.2L697.5 472.9L701.1 475.6L710.3 475.2L716.8 475.2L719.0 477.5L715.8 481.2L714.5 483.5L719.5 486.7L730.7 492.9L737.8 496.8L743.1 500.0L748.4 503.6L751.9 506.3L755.4 509.2L757.3 511.7L757.6 515.5L756.9 519.8L756.3 521.1L754.8 521.9L751.9 518.7L750.2 515.6L748.4 512.7L746.6 510.6L743.1 509.9L739.6 509.9L738.5 508.5L737.1 506.4L735.0 506.2L732.5 507.4L730.7 509.9L728.6 512.7L726.9 514.1L726.1 517.0L725.1 520.5L724.7 523.3L725.8 525.1L728.6 526.2L730.7 526.9L734.3 529.3L735.3 531.1L734.7 539.0L731.5 540.0L726.9 540.9L725.9 546.4L725.0 550.1L721.3 555.6L718.6 559.3L715.8 561.1L712.2 561.1L710.8 557.4L712.2 551.9L714.9 548.2L715.8 545.5L719.0 544.6L719.5 542.7L718.6 537.2L716.8 529.9L714.0 522.5L710.3 517.0L706.6 517.0L704.8 516.1L701.1 513.3L698.8 511.5L699.3 507.8L697.0 504.1L694.7 502.3L689.2 500.5L682.8 494.9L678.2 489.4L673.6 488.5L666.2 485.8L659.8 483.9L653.4 479.3L646.0 472.9L639.7 465.3L634.3 458.1L629.8 452.7L626.2 449.1L621.4 436.0L620.0 431.8L617.9 428.3L614.4 425.4L609.4 423.3L603.8 421.2L598.1 419.1L593.9 418.4L591.0 419.1L588.2 421.2L586.1 424.7L584.0 429.0L581.1 432.5L578.3 433.2ZM605.5 497.8L610.9 496.9L613.6 501.4L612.7 505.9L615.4 509.5L616.3 514.9L614.5 522.1L612.7 527.5L613.6 534.7L611.8 541.9L607.3 541.9L603.7 540.1L601.9 543.7L600.1 547.3L596.5 547.3L592.8 545.5L591.9 540.1L593.7 534.7L594.6 527.5L593.7 520.3L591.0 514.9L589.2 507.7L591.0 505.0L596.5 504.1L601.9 500.5ZM709.4 554.7L705.7 556.5L697.5 557.9L690.1 560.0L682.8 559.3L676.3 560.2L669.9 556.5L668.1 555.6L664.4 559.3L658.9 560.2L656.1 566.6L659.8 570.3L669.0 572.1L678.2 576.7L684.6 579.9L689.2 582.2L694.7 585.0L701.6 588.7L702.1 583.2L703.9 580.4L701.1 574.0L703.0 567.5L705.7 561.1Z" fill="none" stroke="#5e5e5e" stroke-width="1.3" stroke-linejoin="round"/>
</symbol>
</defs>
<rect width="2560" height="1415" fill="#fff"/>

<ellipse cx="294.8" cy="696.3" rx="145" ry="46" fill="#f0f0f0" filter="url(#blur)"/>
<ellipse cx="1069.4" cy="696.3" rx="145" ry="46" fill="#f0f0f0" filter="url(#blur)"/>
<ellipse cx="1866.3" cy="696.3" rx="145" ry="46" fill="#f0f0f0" filter="url(#blur)"/>
<ellipse cx="736.4" cy="1194.3" rx="145" ry="46" fill="#f0f0f0" filter="url(#blur)"/>
<ellipse cx="1578.5" cy="1193.5" rx="145" ry="46" fill="#f0f0f0" filter="url(#blur)"/>
<g transform="translate(291.8,472.3)"><ellipse rx="168.5" ry="133.3" fill="#fafafa"/><use href="#map"/><ellipse rx="168.5" ry="133.3" fill="none" stroke="#363636" stroke-width="4.5"/></g>
<g transform="translate(1066.4,472.3)"><ellipse rx="168.5" ry="133.3" fill="#fafafa"/><use href="#map"/><ellipse rx="168.5" ry="133.3" fill="none" stroke="#363636" stroke-width="4.5"/></g>
<g transform="translate(1863.35,472.3)"><ellipse rx="168.5" ry="133.3" fill="#fafafa"/><use href="#map"/><ellipse rx="168.5" ry="133.3" fill="none" stroke="#363636" stroke-width="4.5"/></g>
<g transform="translate(733.35,970.3)"><ellipse rx="168.5" ry="133.3" fill="#fafafa"/><use href="#map"/><ellipse rx="168.5" ry="133.3" fill="none" stroke="#363636" stroke-width="4.5"/></g>
<g transform="translate(1575.45,969.5)"><ellipse rx="168.5" ry="133.3" fill="#fafafa"/><use href="#map"/><ellipse rx="168.5" ry="133.3" fill="none" stroke="#363636" stroke-width="4.5"/></g>
<use href="#italy" transform="translate(0,0)"/>
<use href="#italy" transform="translate(790.7,0.3)"/>
<use href="#italy" transform="translate(1618.3,0.3)"/>
<use href="#italy" transform="translate(444.0,496.3)"/>
<use href="#italy" transform="translate(1296.2,489.5)"/>
<rect x="110.70" y="1206.60" width="15.6" height="15.6" fill="#b9995f" transform="rotate(45 118.5 1214.4)"/>
<rect x="115.10" y="1211.00" width="6.8" height="6.8" fill="#1b2a4e" transform="rotate(45 118.5 1214.4)"/>
<rect x="90.05" y="1301.45" width="76.9" height="77.1" fill="none" stroke="#212843" stroke-width="3.9"/>
<rect x="2134.8" y="1300.5" width="2" height="78.1" fill="#e9bf92"/>
<g transform="translate(2075.2,1340.1)" fill="none" stroke="#27325a"><circle r="29.2" stroke-width="1.1"/><circle r="27.3" stroke-width="0.7"/><circle r="25.2" stroke-width="2.6" stroke-dasharray="0.9 1.0" opacity="0.85"/><circle r="22.6" stroke-width="0.9"/><circle r="21.2" stroke-width="1.2" stroke-dasharray="1.6 1.3" opacity="0.8"/><path d="M-3.4 6.8l-1.0 -1.4" stroke-width="0.92" opacity="0.66"/><path d="M13.0 5.0l2.9 0.7" stroke-width="0.64" opacity="0.54"/><path d="M-15.8 8.1l1.6 1.6" stroke-width="0.98" opacity="0.93"/><path d="M-10.9 -5.7l1.6 -0.2" stroke-width="1.12" opacity="0.63"/><path d="M4.1 5.3l-1.6 4.1" stroke-width="0.71" opacity="0.76"/><path d="M-7.6 -9.1l-1.6 -0.5" stroke-width="0.64" opacity="0.59"/><path d="M-5.4 -11.6l-1.4 3.3" stroke-width="0.87" opacity="0.63"/><path d="M4.5 -15.7l0.1 3.5" stroke-width="0.92" opacity="0.89"/><path d="M-1.3 -10.4l1.9 -0.2" stroke-width="0.85" opacity="0.84"/><path d="M7.9 11.1l3.7 0.9" stroke-width="1.06" opacity="0.76"/><path d="M7.7 -7.7l-1.2 -3.4" stroke-width="0.95" opacity="0.71"/><path d="M10.2 -16.0l-3.8 0.6" stroke-width="0.64" opacity="0.82"/><path d="M-12.0 10.5l3.1 0.4" stroke-width="0.70" opacity="0.55"/><path d="M15.9 6.2l1.6 1.7" stroke-width="0.83" opacity="0.89"/><path d="M11.4 6.3l-4.4 -1.4" stroke-width="1.09" opacity="0.89"/><path d="M-2.2 12.4l-2.9 3.6" stroke-width="1.17" opacity="0.57"/><path d="M4.2 8.4l0.3 3.2" stroke-width="0.95" opacity="0.62"/><path d="M12.6 0.3l-2.4 2.5" stroke-width="1.17" opacity="0.81"/><path d="M-15.3 -1.5l-0.8 -1.5" stroke-width="1.14" opacity="0.85"/><path d="M12.3 -12.4l-2.3 1.8" stroke-width="0.66" opacity="0.79"/><path d="M4.7 1.9l0.5 2.0" stroke-width="0.80" opacity="0.52"/><path d="M7.6 0.0l2.2 1.7" stroke-width="0.62" opacity="0.89"/><path d="M-5.7 -4.9l-0.0 2.7" stroke-width="0.82" opacity="0.56"/><path d="M11.3 -15.8l-3.1 0.7" stroke-width="0.65" opacity="0.55"/><path d="M-5.5 8.4l1.0 -1.8" stroke-width="0.61" opacity="0.93"/><path d="M-7.3 -1.3l-1.5 -0.4" stroke-width="0.92" opacity="0.94"/><path d="M10.6 -12.3l-0.2 2.8" stroke-width="0.70" opacity="0.85"/><path d="M-16.9 -3.5l-1.1 2.0" stroke-width="1.09" opacity="0.94"/><path d="M2.0 13.9l-1.0 1.3" stroke-width="0.62" opacity="0.63"/><path d="M-0.9 16.2l3.0 -0.8" stroke-width="1.16" opacity="0.94"/><path d="M11.3 -3.3l0.4 2.3" stroke-width="0.72" opacity="0.59"/><path d="M-13.2 -13.0l1.7 -2.7" stroke-width="0.99" opacity="0.86"/><path d="M13.7 8.0l3.6 -2.3" stroke-width="1.05" opacity="0.72"/><path d="M12.1 -2.2l-3.9 2.8" stroke-width="1.03" opacity="0.58"/><path d="M5.3 5.4l3.6 -2.4" stroke-width="0.69" opacity="0.87"/><path d="M15.7 -2.0l-2.0 2.8" stroke-width="0.68" opacity="0.51"/><path d="M15.5 -2.9l-4.7 -0.8" stroke-width="0.86" opacity="0.89"/><path d="M4.1 -8.0l-0.0 2.5" stroke-width="0.74" opacity="0.76"/><path d="M-0.7 12.6l3.2 3.4" stroke-width="0.81" opacity="0.71"/><path d="M-14.2 -0.1l-1.5 -0.2" stroke-width="0.86" opacity="0.58"/><path d="M17.4 0.4l1.5 2.8" stroke-width="1.04" opacity="0.75"/><path d="M-6.5 12.5l-4.0 -1.4" stroke-width="0.66" opacity="0.75"/><path d="M0.1 10.3l0.5 -3.2" stroke-width="0.94" opacity="0.84"/><path d="M11.1 -6.8l-2.5 -2.1" stroke-width="0.91" opacity="0.81"/><path d="M-13.6 4.2l-4.7 0.7" stroke-width="1.02" opacity="0.89"/><path d="M9.3 -3.5l-4.5 -1.8" stroke-width="1.10" opacity="0.56"/><path d="M9.4 9.0l2.1 1.0" stroke-width="0.64" opacity="0.80"/><path d="M3.9 -18.1l2.3 3.3" stroke-width="1.00" opacity="0.56"/><path d="M14.2 -12.9l0.9 4.7" stroke-width="0.84" opacity="0.72"/><path d="M17.8 -1.1l1.6 2.6" stroke-width="0.91" opacity="0.65"/><path d="M3.7 10.4l-0.3 -1.5" stroke-width="0.93" opacity="0.70"/><path d="M11.2 1.3l-2.3 -2.3" stroke-width="0.64" opacity="0.94"/><path d="M4.6 -18.7l1.9 1.5" stroke-width="0.62" opacity="0.85"/><path d="M-0.9 7.0l-4.1 2.2" stroke-width="1.09" opacity="0.62"/><path d="M11.0 15.1l-3.6 -1.7" stroke-width="0.65" opacity="0.53"/><path d="M-4.8 -11.8l4.3 2.1" stroke-width="0.98" opacity="0.86"/><path d="M-10.9 3.3l-4.5 -1.6" stroke-width="0.76" opacity="0.56"/><path d="M-9.4 -1.6l1.6 1.3" stroke-width="0.63" opacity="0.59"/><path d="M-4.1 10.0l0.1 -2.5" stroke-width="0.90" opacity="0.58"/><path d="M-1.5 2.2l-0.0 1.6" stroke-width="1.04" opacity="0.75"/><path d="M5.0 12.5l1.7 -0.7" stroke-width="1.09" opacity="0.69"/><path d="M-7.4 -17.9l-2.4 3.7" stroke-width="1.02" opacity="0.79"/><path d="M-9.5 6.5l1.8 0.7" stroke-width="0.64" opacity="0.83"/><path d="M-0.3 7.9l3.8 2.3" stroke-width="1.12" opacity="0.80"/><path d="M-1.9 9.4l-0.8 3.0" stroke-width="0.69" opacity="0.70"/><path d="M-1.6 19.1l3.4 -0.6" stroke-width="0.75" opacity="0.93"/><path d="M-4.3 10.8l2.8 0.0" stroke-width="0.88" opacity="0.73"/><path d="M4.2 13.2l2.4 0.1" stroke-width="0.65" opacity="0.68"/><path d="M2.8 0.8l-0.8 2.2" stroke-width="0.95" opacity="0.74"/><path d="M-8.6 7.1l2.0 -0.2" stroke-width="1.03" opacity="0.79"/><path d="M-1.8 -17.5l2.1 2.6" stroke-width="0.90" opacity="0.88"/><path d="M6.0 -16.7l-4.0 -2.3" stroke-width="1.01" opacity="0.81"/><path d="M0.4 3.4l1.9 2.1" stroke-width="0.66" opacity="0.88"/><path d="M-14.4 -5.6l-2.7 -2.8" stroke-width="0.89" opacity="0.50"/><path d="M5.0 -16.1l-3.4 -0.1" stroke-width="1.00" opacity="0.53"/><path d="M-0.8 -9.8l2.2 1.1" stroke-width="1.04" opacity="0.59"/><path d="M-1.2 -19.2l-2.8 0.1" stroke-width="0.89" opacity="0.81"/><path d="M1.6 -15.2l-1.1 -1.4" stroke-width="0.69" opacity="0.61"/><path d="M-0.5 -10.7l-1.4 -0.6" stroke-width="0.64" opacity="0.62"/><path d="M-7.6 -14.3l-1.1 -2.2" stroke-width="0.91" opacity="0.71"/><path d="M-6.6 1.4l1.7 -1.4" stroke-width="1.19" opacity="0.92"/><path d="M13.1 1.5l2.1 -4.4" stroke-width="0.87" opacity="0.62"/><path d="M8.9 11.0l1.9 -0.6" stroke-width="1.09" opacity="0.73"/><path d="M12.4 -10.7l0.5 4.6" stroke-width="0.89" opacity="0.51"/><path d="M13.7 0.3l-2.4 0.8" stroke-width="0.68" opacity="0.65"/><path d="M-7.2 16.4l4.1 0.0" stroke-width="1.10" opacity="0.55"/><path d="M14.7 -7.3l2.0 -1.5" stroke-width="0.82" opacity="0.68"/><path d="M15.0 -0.1l-1.9 2.3" stroke-width="0.77" opacity="0.52"/><path d="M0.0 10.1l-2.2 -0.1" stroke-width="0.82" opacity="0.93"/><path d="M13.1 -11.7l-3.2 -3.4" stroke-width="1.16" opacity="0.75"/><path d="M-0.8 -4.3l-0.3 -3.1" stroke-width="1.05" opacity="0.79"/><path d="M-1.0 4.2l1.7 -0.9" stroke-width="0.88" opacity="0.65"/><path d="M-5.0 16.0l2.4 -0.4" stroke-width="0.99" opacity="0.64"/><path d="M-11.5 -4.3l1.0 1.8" stroke-width="0.72" opacity="0.91"/><path d="M-9.1 0.2l4.1 -2.8" stroke-width="0.87" opacity="0.56"/><path d="M2.1 5.5l-1.0 1.5" stroke-width="0.74" opacity="0.62"/><path d="M-16.6 -7.8l-0.0 -2.9" stroke-width="0.85" opacity="0.74"/><path d="M-8.1 7.9l2.3 0.9" stroke-width="1.18" opacity="0.56"/><path d="M-15.5 -0.3l1.5 -1.7" stroke-width="0.76" opacity="0.61"/><path d="M-10.5 7.7l4.3 -1.3" stroke-width="1.12" opacity="0.51"/><path d="M16.1 3.3l2.5 -1.9" stroke-width="0.95" opacity="0.50"/><path d="M-14.6 11.8l2.1 -4.0" stroke-width="1.18" opacity="0.61"/><path d="M5.9 4.8l-3.8 -0.5" stroke-width="1.16" opacity="0.82"/><path d="M-10.3 -13.6l-3.3 0.9" stroke-width="0.62" opacity="0.85"/><path d="M2.0 18.6l-1.6 -2.0" stroke-width="0.68" opacity="0.61"/><path d="M-10.7 -12.3l1.3 1.1" stroke-width="0.91" opacity="0.76"/><path d="M-7.0 6.0l-1.2 -0.9" stroke-width="0.78" opacity="0.71"/><path d="M15.1 -4.0l2.4 -2.1" stroke-width="0.74" opacity="0.61"/><path d="M15.9 -4.0l-0.6 1.5" stroke-width="0.90" opacity="0.80"/><path d="M-8.7 4.8l-2.4 -4.1" stroke-width="0.74" opacity="0.52"/><path d="M-6.6 10.8l-0.9 -2.0" stroke-width="1.08" opacity="0.83"/><path d="M-8.8 -0.3l2.5 -0.5" stroke-width="1.09" opacity="0.60"/><path d="M-8.4 0.2l0.5 2.9" stroke-width="1.00" opacity="0.93"/><path d="M7.4 9.7l1.1 4.8" stroke-width="0.69" opacity="0.52"/><path d="M11.4 4.5l3.7 -2.7" stroke-width="1.04" opacity="0.95"/><path d="M10.2 -4.7l1.9 4.4" stroke-width="1.05" opacity="0.51"/><path d="M-6.1 -10.3l-1.9 1.9" stroke-width="0.70" opacity="0.50"/><path d="M-2.2 11.4l1.9 -0.5" stroke-width="1.18" opacity="0.59"/><path d="M-11.0 13.9l1.3 -2.7" stroke-width="0.63" opacity="0.71"/><path d="M2.7 -2.0l-3.7 2.3" stroke-width="1.06" opacity="0.52"/><path d="M4.8 1.1l2.1 -1.2" stroke-width="1.05" opacity="0.90"/><path d="M-5.4 8.6l3.5 -1.0" stroke-width="0.76" opacity="0.82"/><path d="M-4.2 9.4l4.1 0.1" stroke-width="1.15" opacity="0.79"/><path d="M2.8 -1.1l0.3 3.1" stroke-width="1.17" opacity="0.93"/><path d="M-7.4 6.4l-2.9 1.4" stroke-width="1.16" opacity="0.58"/><path d="M-8.7 -7.0l-1.2 2.5" stroke-width="1.07" opacity="0.54"/><path d="M5.5 16.0l0.0 1.7" stroke-width="0.62" opacity="0.75"/><path d="M-8.8 17.2l3.7 -3.3" stroke-width="0.76" opacity="0.54"/><path d="M11.3 7.8l-0.8 -3.0" stroke-width="0.74" opacity="0.69"/><path d="M-11.6 -11.0l-0.1 -4.5" stroke-width="1.00" opacity="0.55"/><path d="M5.7 -8.9l-2.6 -1.1" stroke-width="1.04" opacity="0.59"/><path d="M0.2 9.7l2.6 3.8" stroke-width="0.95" opacity="0.65"/><path d="M5.7 -14.7l1.9 -0.1" stroke-width="0.88" opacity="0.87"/><path d="M10.0 -15.7l2.4 0.6" stroke-width="0.67" opacity="0.59"/><path d="M14.7 -2.5l2.5 -1.2" stroke-width="1.12" opacity="0.70"/><path d="M-1.1 17.2l1.8 -0.6" stroke-width="0.96" opacity="0.78"/><path d="M2.4 11.6l1.4 1.7" stroke-width="0.75" opacity="0.77"/><path d="M-5.1 -7.2l2.6 0.2" stroke-width="1.01" opacity="0.58"/><path d="M-3.4 8.1l1.0 -3.3" stroke-width="0.64" opacity="0.55"/><path d="M-11.4 8.8l-1.2 -1.4" stroke-width="0.70" opacity="0.81"/><path d="M-8.8 5.6l-1.7 4.5" stroke-width="0.79" opacity="0.75"/><path d="M-7.8 9.8l3.3 -3.8" stroke-width="0.82" opacity="0.59"/><path d="M-1.2 -8.7l4.7 0.2" stroke-width="0.85" opacity="0.87"/><path d="M14.4 1.3l-3.0 -3.6" stroke-width="0.65" opacity="0.78"/><path d="M-9.5 10.0l1.5 2.0" stroke-width="0.91" opacity="0.92"/><path d="M10.6 8.6l1.6 -4.6" stroke-width="0.72" opacity="0.56"/><path d="M18.0 -6.7l-1.7 0.2" stroke-width="1.16" opacity="0.67"/><path d="M12.7 -8.7l0.9 -1.8" stroke-width="1.07" opacity="0.60"/><path d="M-14.8 10.1l1.0 -1.9" stroke-width="0.73" opacity="0.68"/><path d="M-12.0 -1.4l1.7 1.7" stroke-width="1.03" opacity="0.90"/><path d="M14.1 3.7l0.1 -1.6" stroke-width="1.10" opacity="0.55"/><path d="M-11.7 -8.5l-1.8 -1.8" stroke-width="0.85" opacity="0.76"/><path d="M-14.1 7.1l-2.9 1.0" stroke-width="0.61" opacity="0.78"/><path d="M-9.4 0.6l0.4 -4.2" stroke-width="0.87" opacity="0.58"/><path d="M-6.3 1.1l2.1 2.2" stroke-width="0.66" opacity="0.70"/></g>
<text y="97" font-family="'Liberation Serif', serif" font-weight="bold" fill="#16294a"><tspan x="1023.22" font-size="82.5" textLength="65.10" lengthAdjust="spacingAndGlyphs">O</tspan><tspan x="1090.28" font-size="66.0" textLength="267.51" lengthAdjust="spacingAndGlyphs">UTLOOK</tspan> <tspan x="1371.15" font-size="82.0" textLength="152.40" lengthAdjust="spacingAndGlyphs">2025</tspan></text>
<text x="108.36" y="183.75" font-family="'Liberation Sans', sans-serif" font-weight="bold" font-style="normal" font-size="41.70" fill="#21263f" textLength="379.58" lengthAdjust="spacingAndGlyphs" xml:space="preserve">Variazioni 2025/2024</text>
<text x="380.59" y="270.60" font-family="'Liberation Sans', sans-serif" font-weight="bold" font-style="normal" font-size="51.30" fill="#21263f" textLength="230.29" lengthAdjust="spacingAndGlyphs" xml:space="preserve">Revenues</text>
<text x="135.42" y="504.40" font-family="'Liberation Sans', sans-serif" font-weight="bold" font-style="normal" font-size="92.00" fill="#12336a" textLength="297.65" lengthAdjust="spacingAndGlyphs" xml:space="preserve">+12,6%</text>
<text x="484.65" y="489.00" font-family="'Liberation Sans', sans-serif" font-weight="bold" font-style="italic" font-size="68.00" fill="#21263f" textLength="61.23" lengthAdjust="spacingAndGlyphs" xml:space="preserve">vs</text>
<text x="577.17" y="500.40" font-family="'Liberation Sans', sans-serif" font-weight="bold" font-style="normal" font-size="80.00" fill="#12336a" textLength="216.79" lengthAdjust="spacingAndGlyphs" xml:space="preserve">+6,6%</text>
<text x="1233.50" y="270.80" font-family="'Liberation Sans', sans-serif" font-weight="bold" font-style="normal" font-size="51.30" fill="#21263f" textLength="83.59" lengthAdjust="spacingAndGlyphs" xml:space="preserve">Ebit</text>
<text x="914.32" y="496.10" font-family="'Liberation Sans', sans-serif" font-weight="bold" font-style="normal" font-size="92.00" fill="#12336a" textLength="297.65" lengthAdjust="spacingAndGlyphs" xml:space="preserve">+20,2%</text>
<text x="1259.48" y="481.60" font-family="'Liberation Sans', sans-serif" font-weight="bold" font-style="italic" font-size="68.00" fill="#21263f" textLength="60.58" lengthAdjust="spacingAndGlyphs" xml:space="preserve">vs</text>
<text x="1356.07" y="492.50" font-family="'Liberation Sans', sans-serif" font-weight="bold" font-style="normal" font-size="80.00" fill="#12336a" textLength="259.07" lengthAdjust="spacingAndGlyphs" xml:space="preserve">+12,8%</text>
<text x="1983.91" y="270.60" font-family="'Liberation Sans', sans-serif" font-weight="bold" font-style="normal" font-size="51.30" fill="#21263f" textLength="215.52" lengthAdjust="spacingAndGlyphs" xml:space="preserve">Net profit</text>
<text x="1719.51" y="496.70" font-family="'Liberation Sans', sans-serif" font-weight="bold" font-style="normal" font-size="92.00" fill="#12336a" textLength="298.06" lengthAdjust="spacingAndGlyphs" xml:space="preserve">+27,3%</text>
<text x="2058.97" y="483.50" font-family="'Liberation Sans', sans-serif" font-weight="bold" font-style="italic" font-size="68.00" fill="#21263f" textLength="60.80" lengthAdjust="spacingAndGlyphs" xml:space="preserve">vs</text>
<text x="2161.48" y="493.20" font-family="'Liberation Sans', sans-serif" font-weight="bold" font-style="normal" font-size="80.00" fill="#12336a" textLength="216.38" lengthAdjust="spacingAndGlyphs" xml:space="preserve">+5,8%</text>
<text x="873.79" y="780.20" font-family="'Liberation Sans', sans-serif" font-weight="bold" font-style="normal" font-size="51.30" fill="#21263f" textLength="156.33" lengthAdjust="spacingAndGlyphs" xml:space="preserve">CapEx</text>
<text x="588.31" y="1003.00" font-family="'Liberation Sans', sans-serif" font-weight="bold" font-style="normal" font-size="92.00" fill="#12336a" textLength="297.96" lengthAdjust="spacingAndGlyphs" xml:space="preserve">+66,0%</text>
<text x="927.38" y="990.30" font-family="'Liberation Sans', sans-serif" font-weight="bold" font-style="italic" font-size="68.00" fill="#21263f" textLength="60.48" lengthAdjust="spacingAndGlyphs" xml:space="preserve">vs</text>
<text x="1030.07" y="999.10" font-family="'Liberation Sans', sans-serif" font-weight="bold" font-style="normal" font-size="80.00" fill="#12336a" textLength="258.76" lengthAdjust="spacingAndGlyphs" xml:space="preserve">+21,5%</text>
<text x="1672.47" y="781.00" font-family="'Liberation Sans', sans-serif" font-weight="bold" font-style="normal" font-size="51.30" fill="#21263f" textLength="258.60" lengthAdjust="spacingAndGlyphs" xml:space="preserve">Employees</text>
<text x="1453.93" y="1003.00" font-family="'Liberation Sans', sans-serif" font-weight="bold" font-style="normal" font-size="92.00" fill="#12336a" textLength="248.49" lengthAdjust="spacingAndGlyphs" xml:space="preserve">+4,6%</text>
<text x="1769.47" y="990.10" font-family="'Liberation Sans', sans-serif" font-weight="bold" font-style="italic" font-size="68.00" fill="#21263f" textLength="60.69" lengthAdjust="spacingAndGlyphs" xml:space="preserve">vs</text>
<text x="1875.17" y="998.30" font-family="'Liberation Sans', sans-serif" font-weight="bold" font-style="normal" font-size="80.00" fill="#12336a" textLength="216.69" lengthAdjust="spacingAndGlyphs" xml:space="preserve">+3,8%</text>
<text y="1227.3" font-family="'Liberation Sans', sans-serif" font-size="35.0" fill="#21263f"><tspan x="163.83" textLength="55.14" lengthAdjust="spacingAndGlyphs">Già</tspan> <tspan x="230.78" textLength="130.42" lengthAdjust="spacingAndGlyphs">cresciuti</tspan> <tspan x="369.39" textLength="47.93" lengthAdjust="spacingAndGlyphs">nel</tspan> <tspan x="424.66" textLength="73.08" lengthAdjust="spacingAndGlyphs">2024</tspan> <tspan x="507.28" textLength="50.78" lengthAdjust="spacingAndGlyphs">del</tspan> <tspan x="566.29" textLength="60.66" lengthAdjust="spacingAndGlyphs">43%</tspan> <tspan x="636.87" textLength="39.65" lengthAdjust="spacingAndGlyphs">sul</tspan> <tspan x="683.95" textLength="82.50" lengthAdjust="spacingAndGlyphs">2022,</tspan> <tspan x="773.93">i</tspan> <tspan x="790.05" textLength="103.47" lengthAdjust="spacingAndGlyphs">capex</tspan> <tspan x="901.16" textLength="75.49" lengthAdjust="spacingAndGlyphs">sono</tspan> <tspan x="986.33" textLength="109.51" lengthAdjust="spacingAndGlyphs">previsti</tspan> <tspan x="1101.84" textLength="28.46" lengthAdjust="spacingAndGlyphs">in</tspan> <tspan x="1138.78" textLength="127.43" lengthAdjust="spacingAndGlyphs">ulteriore</tspan> <tspan x="1275.47" textLength="123.16" lengthAdjust="spacingAndGlyphs">crescita</tspan> <tspan x="1410.28" textLength="48.04" lengthAdjust="spacingAndGlyphs">nel</tspan> <tspan x="1465.51" textLength="84.51" lengthAdjust="spacingAndGlyphs">2025,</tspan> <tspan x="1557.08" textLength="111.75" lengthAdjust="spacingAndGlyphs">guidati</tspan> <tspan x="1677.12" textLength="52.84" lengthAdjust="spacingAndGlyphs">dal</tspan> <tspan x="1738.44" textLength="72.14" lengthAdjust="spacingAndGlyphs">forte</tspan> <tspan x="1820.54" textLength="129.74" lengthAdjust="spacingAndGlyphs">sviluppo</tspan> <tspan x="1958.83" textLength="99.90" lengthAdjust="spacingAndGlyphs">dell’IA</tspan></text>
<text x="116.17" y="1349.00" font-family="'Liberation Sans', sans-serif" font-weight="normal" font-style="normal" font-size="24.00" fill="#21263f" textLength="24.17" lengthAdjust="spacingAndGlyphs" xml:space="preserve">49</text>
<text transform="scale(0.86,1)" x="2513.61" y="1331.2" font-family="'Liberation Serif', serif" font-size="45.7" fill="#1e2a4a" textLength="282.36" lengthAdjust="spacing">AREA STUDI</text>
<text transform="scale(0.86,1)" x="2512.72" y="1378.6" font-family="'Liberation Serif', serif" font-size="45.1" fill="#1e2a4a" textLength="348.11" lengthAdjust="spacing">MEDIOBANCA</text>
<defs>
<path id="arcTop" d="M2051.65 1319.63 A31.2 31.2 0 0 1 2098.39 1319.22"/>
<path id="arcBot" d="M2040.81 1322.58 A38.6 38.6 0 1 0 2109.28 1321.98"/>
</defs>
<text font-family="'Liberation Serif', serif" font-size="8.6" fill="#27325a" fill-opacity="0.9"><textPath href="#arcTop" textLength="51.8" lengthAdjust="spacingAndGlyphs">MEDIOBANCA</textPath></text>
<text font-family="'Liberation Serif', serif" font-size="8.6" fill="#27325a" fill-opacity="0.9"><textPath href="#arcBot" textLength="157.3" lengthAdjust="spacingAndGlyphs">BANCA DI CREDITO FINANZIARIO</textPath></text>

</svg>
</body></html>
